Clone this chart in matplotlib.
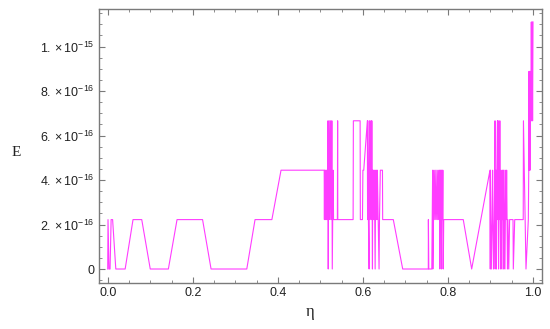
import numpy as np
import matplotlib
matplotlib.use("Agg")
import matplotlib.pyplot as plt
from matplotlib.ticker import MultipleLocator

# error in units of machine epsilon (2.22e-16)
eps = np.finfo(float).eps

eta = [0.0, 0.0007, 0.003, 0.0055, 0.008, 0.0115, 0.019, 0.041, 0.0595, 0.080,
       0.100, 0.1426, 0.163, 0.223, 0.243, 0.327, 0.3464, 0.386, 0.4075, 0.509,
       0.5095, 0.510, 0.511, 0.512, 0.513, 0.514, 0.515, 0.516, 0.517, 0.518,
       0.5185, 0.519, 0.520, 0.521, 0.522, 0.523, 0.524, 0.525, 0.526, 0.527,
       0.528, 0.529, 0.530, 0.531, 0.540, 0.5406, 0.541, 0.577, 0.5776, 0.5935,
       0.594, 0.599, 0.600, 0.602, 0.6105, 0.611, 0.6115, 0.612, 0.613, 0.6146,
       0.615, 0.616, 0.617, 0.618, 0.619, 0.620, 0.621, 0.6215, 0.6225, 0.623,
       0.624, 0.625, 0.626, 0.627, 0.628, 0.6288, 0.630, 0.631, 0.632, 0.633,
       0.634, 0.636, 0.638, 0.639, 0.641, 0.646, 0.6465, 0.6715, 0.6936, 0.7538,
       0.754, 0.755, 0.762, 0.764, 0.7645, 0.766, 0.767, 0.769, 0.770, 0.772,
       0.774, 0.775, 0.777, 0.778, 0.780, 0.781, 0.782, 0.783, 0.784, 0.785,
       0.786, 0.787, 0.788, 0.789, 0.790, 0.836, 0.8558, 0.8988, 0.8995, 0.900,
       0.901, 0.902, 0.904, 0.905, 0.906, 0.907, 0.909, 0.9107, 0.911, 0.912,
       0.913, 0.914, 0.915, 0.9165, 0.917, 0.918, 0.919, 0.920, 0.921, 0.922,
       0.923, 0.924, 0.925, 0.926, 0.927, 0.928, 0.929, 0.930, 0.931, 0.932,
       0.934, 0.935, 0.936, 0.937, 0.938, 0.940, 0.941, 0.943, 0.945, 0.953,
       0.9537, 0.957, 0.977, 0.9775, 0.9835, 0.989, 0.990, 0.9905, 0.991, 0.992,
       0.993, 0.994, 0.995, 0.996, 0.997, 0.998, 0.999, 1.0]

level = [0, 1, 0, 0, 1, 1, 0, 0, 1, 1,
         0, 0, 1, 1, 0, 0, 1, 1, 2, 2,
         1, 2, 1, 2, 1, 2, 1, 2, 1, 3,
         0, 2, 1, 3, 2, 1, 3, 2, 1, 3,
         0, 1, 2, 1, 1, 3, 1, 1, 3, 3,
         1, 1, 2, 2, 3, 1, 3, 2, 1, 0,
         2, 3, 1, 2, 3, 1, 3, 2, 0, 2,
         1, 2, 1, 2, 1, 0, 2, 1, 2, 1,
         2, 1, 0, 1, 2, 2, 1, 1, 0, 0,
         1, 0, 0, 2, 0, 1, 2, 1, 2, 1,
         2, 1, 2, 1, 2, 0, 2, 1, 2, 0,
         2, 1, 2, 0, 1, 1, 0, 2, 0, 2,
         1, 0, 1, 2, 1, 0, 1, 3, 0, 1,
         2, 0, 2, 3, 1, 3, 0, 2, 1, 3,
         1, 0, 2, 1, 0, 2, 1, 2, 0, 2,
         0, 1, 2, 1, 2, 0, 1, 0, 1, 1,
         0, 1, 1, 3, 0, 1, 2, 4, 2, 4,
         2, 4, 3, 5, 3, 5, 3, 5]

E = np.array(level) * eps

x_ticks = [0.0, 0.2, 0.4, 0.6, 0.8, 1.0]
x_labels = ["0.0", "0.2", "0.4", "0.6", "0.8", "1.0"]
y_ticks = [0, 2e-16, 4e-16, 6e-16, 8e-16, 1e-15]
y_labels = ["0", r"$2.\times10^{-16}$", r"$4.\times10^{-16}$",
            r"$6.\times10^{-16}$", r"$8.\times10^{-16}$", r"$1.\times10^{-15}$"]

plt.rcParams['font.family'] = ['Liberation Sans', 'DejaVu Sans']
plt.rcParams['mathtext.fontset'] = 'custom'
plt.rcParams['mathtext.rm'] = 'Liberation Sans'
plt.rcParams['mathtext.it'] = 'Liberation Sans:italic'

fig = plt.figure(figsize=(5.5, 3.29), dpi=100)
ax = fig.add_axes([0.18, 0.1407, 0.8055, 0.8319])

ax.plot(eta, E, color='#ff3cff', lw=0.8)

ax.set_xlim(-0.0205, 1.0212)
ax.set_ylim(-0.616e-16, 11.685e-16)
ax.set_xticks(x_ticks, x_labels)
ax.set_yticks(y_ticks, y_labels)
ax.xaxis.set_minor_locator(MultipleLocator(0.05))
ax.yaxis.set_minor_locator(MultipleLocator(0.5e-16))

frame = '#7a7a7a'
for s in ax.spines.values():
    s.set_color(frame)
    s.set_linewidth(1.0)
ax.tick_params(which='both', direction='in', top=True, right=True,
               color=frame, labelcolor='#222222', labelsize=9)
ax.tick_params(which='major', length=4, width=0.8, pad=3)
ax.tick_params(which='minor', length=2.2, width=0.6)

fig.text(0.029, 0.535, "E", family='Liberation Serif', fontsize=11,
         ha='center', va='center', color='#222222')
fig.text(0.5636, 0.052, "η", family='Liberation Serif', fontsize=12,
         ha='center', va='center', color='#222222')

fig.savefig("out.png", dpi=100)
